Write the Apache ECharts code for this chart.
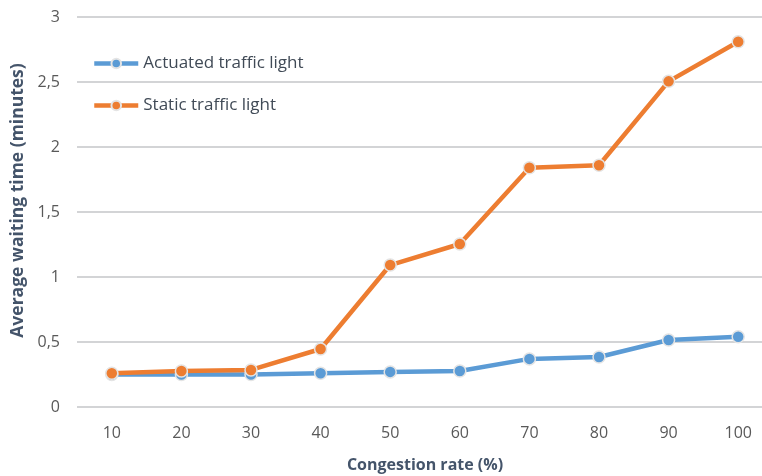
<!DOCTYPE html>
<html>
<head>
<meta charset="utf-8">
<script src="https://cdn.jsdelivr.net/npm/echarts@6/dist/echarts.min.js"></script>
<style>html,body{margin:0;padding:0;background:#fff}#c{width:762px;height:476px}</style>
</head>
<body>
<div id="c"></div>
<script>
const categories = ['10','20','30','40','50','60','70','80','90','100'];
const actuated = [0.25, 0.25, 0.25, 0.26, 0.27, 0.277, 0.37, 0.385, 0.515, 0.54];
const staticLight = [0.26, 0.277, 0.285, 0.446, 1.092, 1.254, 1.84, 1.86, 2.505, 2.81];
const seriesNames = ['Actuated traffic light', 'Static traffic light'];

const font = '"Open Sans", "Liberation Sans", sans-serif';
const chart = echarts.init(document.getElementById('c'));
function mk(name, data, color) {
  return {
    name, type: 'line', data,
    symbol: 'circle', symbolSize: 12,
    lineStyle: { width: 4.5, color },
    itemStyle: { color, borderColor: '#e4e4e4', borderWidth: 1.5 },
    emphasis: { disabled: true }
  };
}
chart.setOption({
  animation: false,
  grid: { left: 77, width: 696, top: 17, bottom: 69, outerBoundsMode: 'none', containLabel: false },
  legend: {
    orient: 'vertical', left: 87, top: 50, itemGap: 25,
    itemWidth: 44, itemHeight: 12,
    lineStyle: { width: 4.5 },
    textStyle: { fontFamily: font, fontSize: 17, color: '#404a56' },
    data: seriesNames
  },
  xAxis: {
    type: 'category', data: categories, boundaryGap: true,
    name: 'Congestion rate (%)', nameLocation: 'middle', nameGap: 50,
    nameTextStyle: { fontFamily: font, fontSize: 16, fontWeight: 'bold', color: '#44546a' },
    axisLine: { show: false }, axisTick: { show: false },
    axisLabel: { fontFamily: font, fontSize: 16, color: '#595959', margin: 18 }
  },
  yAxis: {
    type: 'value', min: 0, max: 3, interval: 0.5,
    name: 'Average waiting time (minutes)', nameLocation: 'middle', nameGap: 49,
    nameTextStyle: { fontFamily: font, fontSize: 17.5, fontWeight: 'bold', color: '#44546a', padding: [0, 0, 0, 23] },
    axisLine: { show: false }, axisTick: { show: false },
    axisLabel: { fontFamily: font, fontSize: 16, color: '#595959', margin: 17,
      formatter: v => String(v).replace('.', ',') },
    splitLine: { lineStyle: { color: '#c4c6c9', width: 1.5 } }
  },
  series: [
    mk(seriesNames[0], actuated, '#5b9bd5'),
    mk(seriesNames[1], staticLight, '#ed7d31')
  ]
});
</script>
</body>
</html>
